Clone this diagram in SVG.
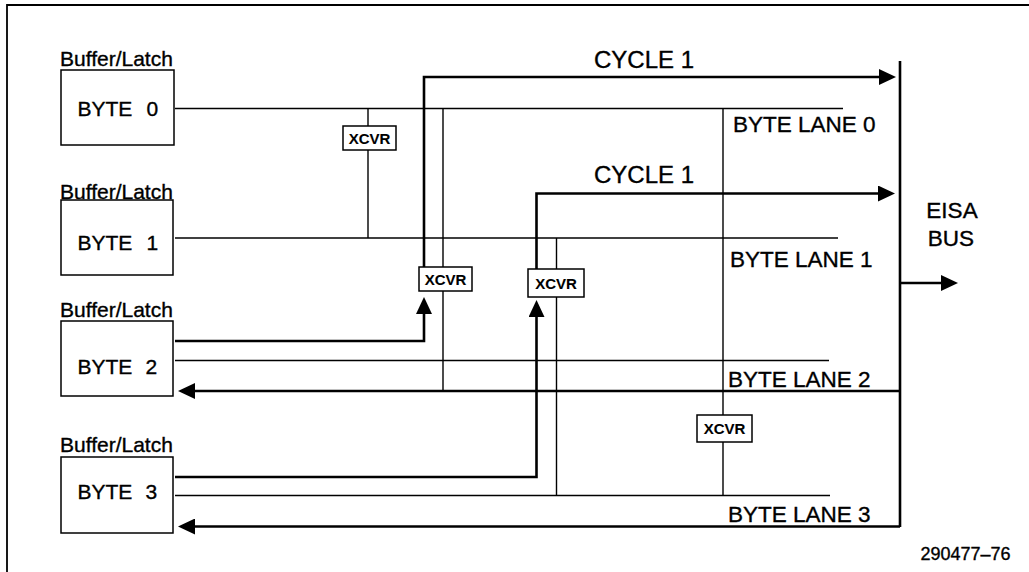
<svg xmlns="http://www.w3.org/2000/svg" width="1029" height="572" viewBox="0 0 1029 572">
<style>
  .frame{fill:none;stroke:#000;stroke-width:1.8}
  .box{fill:#fff;stroke:#000;stroke-width:1.5}
  .thin{fill:none;stroke:#000;stroke-width:1.4}
  .thick{fill:none;stroke:#000;stroke-width:2.6}
  text{font-family:"Liberation Sans",Arial,Helvetica,sans-serif;fill:#000;stroke:#000;stroke-width:0.35}
  .lbl{font-size:21px}
  .lane{font-size:22.5px}
  .cyc{font-size:24px}
  .x{font-size:15px;font-weight:bold;text-anchor:middle;stroke-width:0.1}
  .fig{font-size:18px}
</style>
<defs>
  <marker id="ah" markerUnits="userSpaceOnUse" markerWidth="17" markerHeight="16" viewBox="0 0 17 16" refX="3" refY="8" orient="auto">
    <path d="M0,0 L17,8 L0,16 Z" fill="#000"/>
  </marker>
</defs>
<rect width="1029" height="572" fill="#fff"/>
<path class="frame" d="M7,572 V5 H1029"/>

<g id="connectors">
  <path class="thin" d="M175,108.5 H843"/>
  <path class="thin" d="M175,238 H838"/>
  <path class="thin" d="M175,360.5 H829"/>
  <path class="thin" d="M175,495.5 H830"/>
  <path class="thin" d="M368,108.5 V126 M368,150 V238"/>
  <path class="thin" d="M443,108.5 V267 M443,291 V391"/>
  <path class="thin" d="M556.5,238 V269 M556.5,297 V495.5"/>
  <path class="thin" d="M723,108.5 V415 M723,442 V495.5"/>
  <path class="thick" d="M900,61 V527"/>
  <path class="thick" d="M175,341 H424 V311" marker-end="url(#ah)"/>
  <path class="thick" d="M424,267 V77 H882" marker-end="url(#ah)"/>
  <path class="thick" d="M175,477 H536.5 V314" marker-end="url(#ah)"/>
  <path class="thick" d="M536.5,269 V193.5 H881" marker-end="url(#ah)"/>
  <path class="thick" d="M900,391 H192" marker-end="url(#ah)"/>
  <path class="thick" d="M900,526.5 H192" marker-end="url(#ah)"/>
  <path class="thick" d="M900,283 H944" marker-end="url(#ah)"/>
</g>

<g id="byte0">
  <text class="lbl" x="60" y="66">Buffer/Latch</text>
  <rect class="box" x="61" y="70" width="113" height="75"/>
  <text class="lbl" x="77.5" y="115.7">BYTE<tspan x="146.5">0</tspan></text>
</g>
<g id="byte1">
  <rect class="box" x="61" y="200" width="112" height="75"/>
  <text class="lbl" x="60" y="199">Buffer/Latch</text>
  <text class="lbl" x="77.5" y="250">BYTE<tspan x="146.5">1</tspan></text>
</g>
<g id="byte2">
  <text class="lbl" x="60" y="317.3">Buffer/Latch</text>
  <rect class="box" x="61" y="321" width="112" height="75"/>
  <text class="lbl" x="77.5" y="374">BYTE<tspan x="145.5">2</tspan></text>
</g>
<g id="byte3">
  <text class="lbl" x="60" y="452.3">Buffer/Latch</text>
  <rect class="box" x="61" y="457" width="112" height="76"/>
  <text class="lbl" x="77.5" y="499.3">BYTE<tspan x="145.5">3</tspan></text>
</g>

<g id="xcvr-a">
  <rect class="box" x="343" y="126" width="53" height="24"/>
  <text class="x" x="369.5" y="143.5">XCVR</text>
</g>
<g id="xcvr-b">
  <rect class="box" x="419" y="267" width="53" height="24"/>
  <text class="x" x="445.5" y="285">XCVR</text>
</g>
<g id="xcvr-c">
  <rect class="box" x="528" y="269" width="56" height="28"/>
  <text class="x" x="556" y="288.5">XCVR</text>
</g>
<g id="xcvr-d">
  <rect class="box" x="697" y="415" width="55" height="27"/>
  <text class="x" x="724.5" y="434">XCVR</text>
</g>

<g id="labels">
  <text class="cyc" x="594" y="67.7">CYCLE 1</text>
  <text class="cyc" x="594" y="182.7">CYCLE 1</text>
  <text class="lane" x="733" y="132">BYTE LANE 0</text>
  <text class="lane" x="730" y="266.7">BYTE LANE 1</text>
  <text class="lane" x="728" y="387.3">BYTE LANE 2</text>
  <text class="lane" x="728" y="522.3">BYTE LANE 3</text>
  <text class="lane" x="952" y="218.3" text-anchor="middle">EISA</text>
  <text class="lane" x="951" y="246" text-anchor="middle">BUS</text>
  <text class="fig" x="920.5" y="560">290477–76</text>
</g>
</svg>
